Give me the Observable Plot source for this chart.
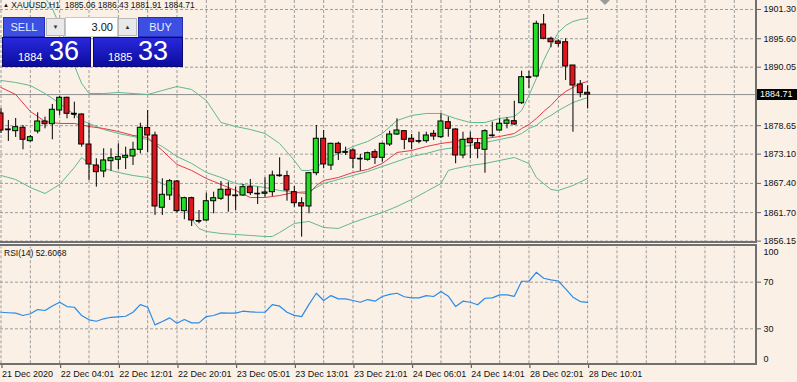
<!DOCTYPE html>
<html><head><meta charset="utf-8">
<script src="https://cdn.jsdelivr.net/npm/d3@7"></script>
<script src="https://cdn.jsdelivr.net/npm/@observablehq/plot@0.6"></script>
<style>
html,body{margin:0;padding:0;background:#faf0e6;}
#wrap{position:relative;width:797px;height:382px;overflow:hidden;background:#faf0e6;font-family:"Liberation Sans",Arial,sans-serif;}
#main{position:absolute;left:0;top:0;}
#rsi{position:absolute;left:0;top:242px;}
.ln{position:absolute;background:#707070;}
.hdr{position:absolute;left:3px;top:0px;font-size:8.5px;color:#111;white-space:pre;line-height:11px;}
.hdr .tri{font-size:6px;vertical-align:1px;}
.btn{position:absolute;box-sizing:border-box;text-align:center;}
.tb{top:17px;height:20px;background:#3d4fe3;border:1px solid #2630b0;color:#e8ecff;font-size:11px;line-height:18px;}
.ar{top:18px;height:18px;width:19px;background:#e9e9e9;border:1px solid #b8b8b8;color:#333;font-size:6px;line-height:16px;}
.inp{top:17px;height:20px;left:65px;width:53px;background:#fff;border:1px solid #c8c8c8;font-size:11px;line-height:18px;text-align:right;padding-right:4px;color:#111;}
.big{top:37px;height:30px;background:linear-gradient(#2828dc,#0c0c9e);border:1px solid #0a0a6e;color:#fff;}
.big .s{position:absolute;bottom:3px;font-size:11px;line-height:1;}
.big .b{position:absolute;bottom:1px;font-size:27px;line-height:1;}
#bid{position:absolute;left:757px;top:89px;width:40px;height:11px;background:#000;color:#fff;font-size:9px;line-height:11px;padding-left:3px;box-sizing:border-box;}
.rsilab{position:absolute;left:4px;top:248px;font-size:8.5px;color:#111;}
.shift{position:absolute;left:600px;top:0;width:0;height:0;border-left:5px solid transparent;border-right:5px solid transparent;border-top:5px solid #9a9a9a;}
</style></head>
<body>
<div id="wrap">
  <div id="main"></div>
  <div id="rsi"></div>
</div>
<script>
// ---- Candle data (XAUUSD H1), bar index 0..80 ----
const opens = [1881.03,1877.91,1877.58,1878.24,1875.63,1877.52,1879.47,1878.94,1881.61,1884.09,
1880.97,1880.83,1874.98,1870.89,1869.72,1871.73,1872.00,1872.39,1872.65,1873.95,
1878.20,1876.74,1862.65,1865.04,1867.77,1861.99,1864.52,1860.07,1860.17,1863.93,
1864.40,1866.16,1865.04,1865.04,1866.66,1865.38,1865.38,1865.69,1868.94,1868.81,
1865.69,1863.54,1862.90,1869.39,1876.10,1870.89,1875.12,1873.49,1873.82,1872.20,
1872.00,1873.49,1872.39,1874.98,1876.93,1877.58,1876.10,1875.63,1875.63,1877.07,
1876.41,1879.33,1877.91,1872.84,1876.10,1875.24,1873.95,1876.74,1877.71,1879.02,
1879.53,1883.03,1888.10,1888.24,1898.37,1895.59,1895.06,1894.92,1890.38,1886.68,
1885.06];
const highs = [1882.00,1879.66,1880.05,1878.69,1876.74,1881.16,1880.31,1882.78,1884.34,1884.20,
1883.23,1880.97,1879.02,1872.20,1874.15,1874.15,1875.12,1874.46,1875.43,1879.14,
1881.61,1877.38,1868.30,1868.16,1867.97,1864.71,1864.71,1862.12,1865.49,1865.69,
1867.77,1867.64,1866.66,1867.19,1868.16,1866.66,1868.49,1869.78,1872.39,1869.78,
1866.80,1864.60,1869.39,1878.69,1877.71,1875.24,1875.43,1874.46,1874.15,1873.04,
1873.49,1873.95,1875.24,1877.58,1879.99,1877.71,1876.93,1877.38,1877.38,1877.71,
1880.97,1880.31,1878.04,1877.38,1877.38,1876.10,1877.85,1879.33,1879.99,1880.19,
1883.42,1889.27,1889.27,1899.02,1900.32,1895.90,1895.39,1895.59,1890.38,1887.46,
1886.43];
const lows = [1877.13,1875.57,1876.35,1873.95,1875.43,1877.07,1878.04,1875.90,1880.64,1879.99,
1879.99,1874.46,1867.97,1866.66,1868.49,1869.78,1870.05,1870.11,1870.89,1873.17,
1873.43,1861.15,1861.15,1864.07,1861.60,1860.31,1859.00,1859.53,1860.03,1861.48,
1864.07,1861.79,1862.12,1864.85,1865.04,1863.29,1864.71,1864.85,1868.61,1863.93,
1862.76,1856.92,1861.48,1868.90,1870.25,1869.92,1871.87,1872.84,1870.25,1869.78,
1871.73,1871.09,1871.54,1874.60,1876.74,1873.95,1873.95,1875.12,1875.24,1875.77,
1876.15,1876.41,1871.22,1872.20,1872.20,1872.20,1869.39,1876.41,1877.58,1878.04,
1878.69,1882.78,1885.84,1888.10,1895.39,1893.83,1893.95,1887.46,1877.38,1884.09,
1881.91];
const closes = [1877.71,1877.85,1878.36,1875.90,1876.41,1879.47,1878.94,1881.75,1884.09,1880.97,
1880.87,1874.98,1871.09,1869.59,1871.87,1872.31,1872.51,1872.78,1873.95,1878.24,
1876.74,1862.90,1865.18,1867.83,1861.99,1864.52,1860.17,1860.03,1863.93,1864.52,
1866.16,1865.04,1865.00,1866.66,1865.49,1865.36,1865.63,1868.94,1868.90,1866.02,
1863.54,1862.90,1869.39,1876.10,1871.09,1875.12,1873.29,1873.45,1872.20,1872.16,
1873.29,1872.39,1875.12,1876.93,1877.71,1875.90,1875.43,1875.61,1876.74,1876.54,
1879.47,1878.04,1872.84,1875.90,1875.24,1874.15,1877.58,1876.70,1879.02,1879.66,
1878.88,1888.10,1888.06,1898.51,1895.59,1894.92,1894.61,1890.19,1886.48,1884.98,
1884.71];

// ---- Indicator lines: [bar, price] ----
const upperBand = [[5,1905.97],[6,1903.6],[7,1901.49],[8,1898.18],[9,1894.28],[10,1890.38],[11,1886.87],[12,1884.92],[14,1884.92],[16,1885.12],[18,1884.92],[20,1884.73],[22,1885.51],[24,1886.29],[26,1885.70],[28,1883.56],[30,1879.27],[32,1878.49],[34,1877.91],[36,1877.13],[38,1875.18],[40,1871.87],[41,1869.92],[42,1869.92],[43,1870.31],[44,1871.87],[46,1873.23],[48,1874.59],[50,1875.57],[52,1877.13],[54,1879.66],[56,1880.64],[58,1881.03],[60,1881.03],[62,1880.05],[64,1879.27],[66,1879.27],[68,1880.05],[70,1880.44],[71,1881.61],[72,1884.53],[73,1887.85],[74,1891.36],[75,1894.28],[76,1896.81],[77,1898.18],[78,1898.96],[79,1899.35],[80,1899.54]];
const middleBand = [[0,1887.46],[2,1887.07],[4,1886.48],[6,1884.92],[8,1882.98],[10,1880.83],[11,1879.66],[12,1879.08],[14,1877.91],[16,1877.13],[18,1876.54],[20,1875.96],[22,1874.59],[24,1872.65],[26,1871.28],[28,1869.53],[30,1868.55],[32,1867.38],[34,1866.99],[36,1866.60],[38,1866.02],[40,1865.63],[42,1865.82],[44,1867.38],[46,1868.16],[48,1868.94],[50,1869.72],[52,1870.70],[54,1871.67],[56,1872.65],[58,1873.23],[60,1874.01],[62,1874.40],[64,1874.79],[66,1875.37],[68,1875.96],[70,1876.54],[71,1877.13],[72,1878.10],[73,1878.69],[74,1879.86],[75,1880.64],[76,1881.61],[78,1883.17],[80,1884.14]];
const lowerBand = [[0,1868.94],[2,1868.16],[4,1866.60],[6,1865.43],[8,1867.19],[10,1870.50],[11,1872.45],[12,1871.28],[14,1870.31],[16,1869.53],[18,1868.94],[20,1868.55],[22,1867.38],[24,1866.02],[26,1860.37],[27,1858.61],[28,1858.03],[30,1857.64],[32,1857.44],[34,1857.25],[36,1857.05],[37,1857.05],[38,1857.83],[40,1859.59],[42,1859.98],[44,1858.81],[46,1858.61],[48,1859.78],[50,1860.76],[52,1861.73],[54,1862.90],[56,1864.26],[58,1865.82],[60,1867.38],[61,1869.92],[62,1870.31],[64,1870.89],[66,1871.28],[68,1871.87],[70,1872.45],[71,1871.87],[72,1871.28],[73,1868.55],[74,1867.38],[75,1866.21],[76,1866.02],[78,1866.99],[80,1868.36]];
const movingAvg = [[0,1886.09],[2,1884.73],[4,1881.42],[6,1879.47],[8,1879.08],[10,1879.08],[12,1878.49],[14,1878.10],[16,1877.52],[18,1876.74],[20,1876.35],[22,1873.81],[24,1871.09],[26,1869.92],[28,1868.36],[30,1867.19],[32,1866.02],[34,1864.65],[36,1864.65],[38,1865.04],[40,1865.63],[42,1865.43],[43,1866.99],[44,1867.97],[46,1868.55],[48,1869.53],[50,1870.11],[52,1871.28],[54,1873.43],[56,1873.81],[58,1874.59],[60,1875.18],[62,1875.57],[64,1876.15],[66,1876.15],[68,1876.54],[70,1877.13],[71,1878.10],[72,1878.88],[73,1880.05],[74,1881.42],[75,1882.59],[76,1884.14],[77,1885.31],[78,1886.09],[79,1886.87],[80,1887.26]];

// ---- RSI(14), one value per bar ----
const rsiValues = [44.2,43.8,43.4,41.4,42.9,46.5,45.7,49.5,52.8,49.1,
48.5,41.4,37.7,36.5,38.6,39.9,40.3,40.8,44.2,50.8,
48.5,33.4,36.3,39.4,34.8,38.0,35.1,35.1,40.5,41.4,
43.7,43.5,43.4,45.1,44.6,44.2,44.2,50.8,49.4,44.2,
41.5,40.5,51.0,60.5,54.3,58.5,55.7,55.7,54.3,52.8,
55.1,53.7,57.7,59.5,60.5,57.5,56.6,56.6,58.5,57.7,
62.0,58.0,49.1,53.7,52.8,50.6,56.2,56.5,59.1,59.1,
57.9,70.8,70.8,78.5,73.4,72.0,71.0,64.3,57.1,53.4,
52.6068];

// ---- Axis ticks / labels ----
const priceTicks = [1901.30,1895.60,1890.05,1878.65,1873.10,1867.40,1861.70,1856.15];
const bidPrice = 1884.71;
const timeTickBars = [0,8,16,24,32,40,48,56,64,72,80];
const timeTickLabels = ["21 Dec 2020","22 Dec 04:01","22 Dec 12:01","22 Dec 20:01","23 Dec 05:01","23 Dec 13:01","23 Dec 21:01","24 Dec 06:01","24 Dec 14:01","28 Dec 02:01","28 Dec 10:01"];
const gridBars = d3.range(0, 101, 4);
const rsiLevels = [70, 30];
const symbol = "XAUUSD,H1";
const sellPrice = ["1884", "36"];
const buyPrice = ["1885", "33"];
const lotSize = "3.00";

const candles = opens.map((o, i) => ({i, o, h: highs[i], l: lows[i], c: closes[i]}));
const rsiData = rsiValues.map((v, i) => ({i, v}));

const bull = "#25dd25", bear = "#e3131c";
const gridStroke = "#9c9c9c", dash = "3,2";
const bandColor = "#62b98d", maColor = "#e63946";
const xDomain = [-0.07, 103.03];
const font = {fontFamily: "'Liberation Sans', Arial, sans-serif", fontSize: "9px", background: "transparent", color: "#111"};
const half = 0.34;

const main = Plot.plot({
  width: 797, height: 252,
  marginLeft: 0, marginRight: 41, marginTop: 0, marginBottom: 10,
  style: font,
  x: {domain: xDomain, axis: null},
  y: {domain: [1855.88, 1903.05], range: [242, 0]},
  marks: [
    Plot.gridY(priceTicks, {stroke: gridStroke, strokeOpacity: 1, strokeDasharray: dash}),
    Plot.gridX(gridBars, {stroke: gridStroke, strokeOpacity: 1, strokeDasharray: dash}),
    Plot.ruleY([bidPrice], {stroke: "#8e8e8e", strokeWidth: 1}),
    Plot.line(upperBand, {x: d => d[0], y: d => d[1], stroke: bandColor, strokeWidth: 1, clip: true}),
    Plot.line(middleBand, {x: d => d[0], y: d => d[1], stroke: bandColor, strokeWidth: 1, clip: true}),
    Plot.line(lowerBand, {x: d => d[0], y: d => d[1], stroke: bandColor, strokeWidth: 1, clip: true}),
    Plot.line(movingAvg, {x: d => d[0], y: d => d[1], stroke: maColor, strokeWidth: 1, clip: true}),
    Plot.ruleX(candles, {x: "i", y1: "l", y2: "h", stroke: "#000", strokeWidth: 1}),
    Plot.rect(candles, {x1: d => d.i - half, x2: d => d.i + half, y1: "o", y2: "c",
      fill: d => d.c >= d.o ? bull : bear, stroke: "#000", strokeWidth: 1}),
    Plot.ruleY(candles.filter(d => Math.abs(d.o - d.c) < 0.2), {y: "c", x1: d => d.i - half, x2: d => d.i + half, stroke: "#000", strokeWidth: 1}),
    Plot.axisY(priceTicks, {anchor: "right", label: null, tickSize: 4, tickPadding: 3, tickFormat: d => d.toFixed(2), stroke: "#666"})
  ]
});
document.getElementById("main").appendChild(main);

const rsiPlot = Plot.plot({
  width: 797, height: 140,
  marginLeft: 0, marginRight: 41, marginTop: 0, marginBottom: 18,
  style: font,
  x: {domain: xDomain, label: null},
  y: {domain: [0, 100], range: [121.3, 4.7], label: null},
  marks: [
    Plot.gridY(rsiLevels, {stroke: gridStroke, strokeOpacity: 1, strokeDasharray: dash}),
    Plot.gridX(gridBars, {stroke: gridStroke, strokeOpacity: 1, strokeDasharray: dash, y1: 0, y2: 100}),
    Plot.line(rsiData, {x: "i", y: "v", stroke: "#2b8be6", strokeWidth: 1.2}),
    Plot.axisY(rsiLevels, {anchor: "right", label: null, tickSize: 4, tickPadding: 3, stroke: "#666"}),
    Plot.axisY([100], {anchor: "right", label: null, tickSize: 0, tickPadding: 7, dy: 5}),
    Plot.axisY([0], {anchor: "right", label: null, tickSize: 0, tickPadding: 7, dy: -5}),
    Plot.axisX(timeTickBars, {anchor: "bottom", label: null, tickSize: 4, tickPadding: 2, textAnchor: "start", dx: 1,
      tickFormat: d => timeTickLabels[timeTickBars.indexOf(d)], stroke: "#444"})
  ]
});
document.getElementById("rsi").appendChild(rsiPlot);

// ---- decorations: panel borders, header, one-click panel ----
const wrap = document.getElementById("wrap");
function add(html) { wrap.insertAdjacentHTML("beforeend", html); }
add('<div class="ln" style="left:755px;top:0;width:2px;height:243px"></div>');
add('<div class="ln" style="left:0;top:241px;width:757px;height:2px"></div>');
add('<div class="ln" style="left:0;top:244px;width:757px;height:2px"></div>');
add('<div class="ln" style="left:755px;top:244px;width:2px;height:121px"></div>');
add('<div class="ln" style="left:0;top:363px;width:757px;height:2px"></div>');
add('<div class="shift"></div>');
const last = candles[candles.length - 1];
add(`<div class="hdr"><span class="tri">▲</span> ${symbol}  ${last.o.toFixed(2)} ${last.h.toFixed(2)} ${last.l.toFixed(2)} ${last.c.toFixed(2)}</div>`);
add(`<div id="bid">${bidPrice.toFixed(2)}</div>`);
add(`<div class="rsilab">RSI(14) ${rsiValues[rsiValues.length - 1].toFixed(4)}</div>`);
add('<div class="btn tb" style="left:3px;width:42px">SELL</div>');
add('<div class="btn ar" style="left:46px">▼</div>');
add(`<div class="btn inp">${lotSize}</div>`);
add('<div class="btn ar" style="left:118px">▲</div>');
add('<div class="btn tb" style="left:138px;width:45px">BUY</div>');
add(`<div class="btn big" style="left:2px;width:89px"><span class="s" style="left:15px">${sellPrice[0]}</span><span class="b" style="left:46px">${sellPrice[1]}</span></div>`);
add(`<div class="btn big" style="left:93px;width:90px"><span class="s" style="left:14px">${buyPrice[0]}</span><span class="b" style="left:44px">${buyPrice[1]}</span></div>`);
</script>
</body></html>
